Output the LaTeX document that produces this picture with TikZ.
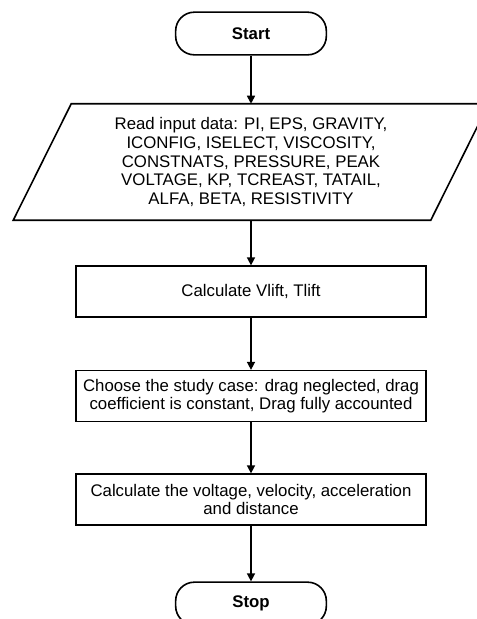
\documentclass[tikz,border=0pt]{standalone}
\usepackage{fontspec}
\setmainfont{Liberation Sans}
\usetikzlibrary{arrows.meta}

\begin{document}
\begin{tikzpicture}[x=0.75pt, y=-0.75pt,
  terminal/.style={draw, line width=1.2pt, rounded corners=14pt, minimum width=113pt, minimum height=32pt, font=\fontsize{12.6}{14}\selectfont\bfseries},
  process/.style={draw, line width=1.2pt, minimum width=262.5pt, minimum height=38pt, inner sep=0pt, align=center, font=\fontsize{12.6}{14}\selectfont},
  flow/.style={line width=1.2pt, -{Triangle[length=6pt, width=6pt]}}]
% Page size of the picture
\useasboundingbox (0,0) rectangle (477,619);

% Start and input block
\node[terminal] (start) at (251, 33.5) {Start};
\node[minimum width=312.75pt, minimum height=87pt, inner sep=0pt, align=center, font=\fontsize{12.6}{14}\selectfont] (read) at (251, 162) {Read input data: PI, EPS, GRAVITY,\\ ICONFIG, ISELECT, VISCOSITY,\\ CONSTNATS, PRESSURE, PEAK\\ VOLTAGE, KP, TCREAST, TATAIL,\\ ALFA, BETA, RESISTIVITY};
\draw[line width=1.2pt] ([xshift=21.75pt]read.north west) -- ([xshift=21.75pt]read.north east) -- ([xshift=-21.75pt]read.south east) -- ([xshift=-21.75pt]read.south west) -- cycle;

% Calculation blocks
\node[process] (lift) at (251, 291.5) {Calculate Vlift, Tlift};
\node[process] (case) at (251, 396) {Choose the study case: drag neglected, drag\\ coefficient is constant, Drag fully accounted};
\node[process] (calc) at (251, 499.5) {Calculate the voltage, velocity, acceleration\\ and distance};
\node[terminal] (stop) at (251, 603.5) {Stop};

% Connectors
\draw[flow] (start.south) -- (read.north);
\draw[flow] (read.south) -- (lift.north);
\draw[flow] (lift.south) -- (case.north);
\draw[flow] (case.south) -- (calc.north);
\draw[flow] (calc.south) -- (stop.north);
\end{tikzpicture}
\end{document}
